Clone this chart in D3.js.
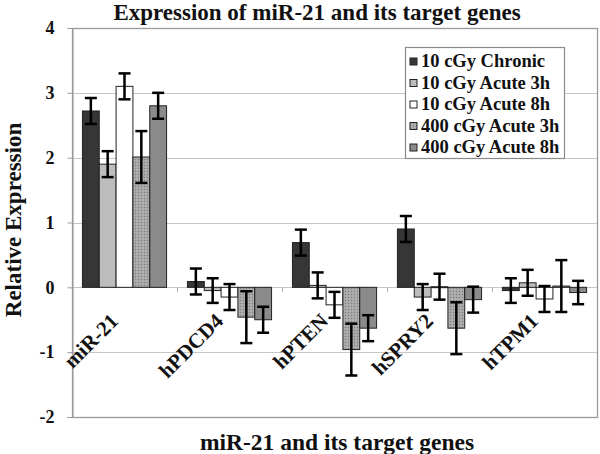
<!DOCTYPE html>
<html>
<head>
<meta charset="utf-8">
<script src="https://cdn.jsdelivr.net/npm/d3@7"></script>
<style>
  body { margin: 0; background: #fff; }
  svg { display: block; }
  text { font-family: "Liberation Serif", "Times New Roman", serif; font-weight: bold; fill: #111; }
</style>
</head>
<body>
<svg id="chart" width="600" height="454"></svg>
<script>
"use strict";

// данные
var categories = ["miR-21", "hPDCD4", "hPTEN", "hSPRY2", "hTPM1"];
var seriesNames = ["10 cGy Chronic", "10 cGy Acute 3h", "10 cGy Acute 8h", "400 cGy Acute 3h", "400 cGy Acute 8h"];
var chronic10 = [2.72, 0.09, 0.69, 0.90, -0.05];
var acute3h10 = [1.90, -0.05, 0.03, -0.15, 0.07];
var acute8h10 = [3.10, -0.15, -0.27, 0.01, -0.18];
var acute3h400 = [2.01, -0.46, -0.96, -0.63, 0.02];
var acute8h400 = [2.80, -0.50, -0.63, -0.19, -0.08];
var err10Chronic = [0.2, 0.2, 0.2, 0.2, 0.19];
var err10Acute3h = [0.2, 0.19, 0.2, 0.2, 0.2];
var err10Acute8h = [0.2, 0.2, 0.2, 0.2, 0.2];
var err400Acute3h = [0.4, 0.4, 0.4, 0.4, 0.4];
var err400Acute8h = [0.2, 0.2, 0.2, 0.2, 0.18];
var yTicks = [-2, -1, 0, 1, 2, 3, 4];

var values = [chronic10, acute3h10, acute8h10, acute3h400, acute8h400];
var errors = [err10Chronic, err10Acute3h, err10Acute8h, err400Acute3h, err400Acute8h];
var fills = ["#363636", "#bdbdbd", "#ffffff", "url(#dots)", "#8a8a8a"];

var svg = d3.select("#chart");

// узор для серии 400 cGy Acute 3h
var pat = svg.append("defs").append("pattern")
    .attr("id", "dots")
    .attr("patternUnits", "userSpaceOnUse")
    .attr("width", 3).attr("height", 3);
pat.append("rect").attr("width", 3).attr("height", 3).attr("fill", "#a6a6a6");
pat.append("rect").attr("x", 0).attr("y", 0).attr("width", 1).attr("height", 1).attr("fill", "#7c7c7c");
pat.append("rect").attr("x", 1.5).attr("y", 1.5).attr("width", 1).attr("height", 1).attr("fill", "#c8c8c8");

var plot = { left: 72, right: 597, top: 28, bottom: 417 };

var y = d3.scaleLinear().domain([-2, 4]).range([plot.bottom, plot.top]);
var x = d3.scaleBand().domain(categories).range([plot.left, plot.right]).paddingInner(0).paddingOuter(0);
var xs = d3.scaleBand().domain(d3.range(seriesNames.length))
    .range([0, x.bandwidth()]).paddingOuter(0.62).paddingInner(0);

// сетка
svg.append("g")
    .selectAll("line")
    .data(yTicks)
    .enter()
    .append("line")
    .attr("x1", plot.left).attr("x2", plot.right)
    .attr("y1", function (d) { return Math.round(y(d)) + 0.5; })
    .attr("y2", function (d) { return Math.round(y(d)) + 0.5; })
    .attr("stroke", "#c6c6c6").attr("stroke-width", 1.2);

// рамка области построения
svg.append("rect")
    .attr("x", plot.left + 0.5).attr("y", plot.top + 0.5)
    .attr("width", plot.right - plot.left).attr("height", plot.bottom - plot.top)
    .attr("fill", "none").attr("stroke", "#9a9a9a").attr("stroke-width", 1.3);

// ось Y
var yAxis = svg.append("g")
    .attr("transform", "translate(" + (plot.left + 0.5) + ",0)")
    .call(d3.axisLeft(y).tickValues(yTicks).tickSize(5).tickPadding(13)
        .tickFormat(function (d) { return String(d); }));
yAxis.select(".domain").attr("stroke", "#9a9a9a");
yAxis.selectAll(".tick line").attr("stroke", "#9a9a9a");
yAxis.selectAll("text").attr("font-size", 18).attr("fill", "#111")
    .attr("font-family", "Liberation Serif, Times New Roman, serif").attr("font-weight", "bold");

// засечки категорий на нуле
svg.append("g")
    .selectAll("line")
    .data(categories.slice(1))
    .enter()
    .append("line")
    .attr("x1", function (c) { return Math.round(x(c)) + 0.5; })
    .attr("x2", function (c) { return Math.round(x(c)) + 0.5; })
    .attr("y1", y(0)).attr("y2", y(0) + 5)
    .attr("stroke", "#b0b0b0");

// столбцы
var groups = svg.append("g")
    .selectAll("g")
    .data(values)
    .enter()
    .append("g");

groups.selectAll("rect")
    .data(function (vals, si) {
        return vals.map(function (v, ci) { return { s: si, c: ci, v: v }; });
    })
    .enter()
    .append("rect")
    .attr("x", function (d) { return x(categories[d.c]) + xs(d.s); })
    .attr("y", function (d) { return y(Math.max(d.v, 0)); })
    .attr("width", xs.bandwidth())
    .attr("height", function (d) { return Math.max(1, y(Math.min(d.v, 0)) - y(Math.max(d.v, 0))); })
    .attr("fill", function (d) { return fills[d.s]; })
    .attr("stroke", "#222").attr("stroke-width", 1);

// подписи категорий под нулём, повернутые
svg.append("g")
    .selectAll("text")
    .data(categories)
    .enter()
    .append("text")
    .attr("transform", function (c) {
        return "translate(" + (x(c) + x.bandwidth() / 2 - 5) + "," + (y(0) + 35) + ") rotate(-45)";
    })
    .attr("text-anchor", "end")
    .attr("font-size", 21)
    .text(function (c) { return c; });

// планки погрешностей
var bars = [];
values.forEach(function (vals, si) {
    vals.forEach(function (v, ci) {
        bars.push({ s: si, c: ci, v: v, e: errors[si][ci] });
    });
});
var eb = svg.append("g").attr("stroke", "#000").attr("stroke-width", 2.5);
var cx = function (d) { return x(categories[d.c]) + xs(d.s) + xs.bandwidth() / 2; };
eb.selectAll("line.v").data(bars).enter().append("line").attr("class", "v")
    .attr("x1", cx).attr("x2", cx)
    .attr("y1", function (d) { return y(d.v + d.e); })
    .attr("y2", function (d) { return y(d.v - d.e); });
eb.selectAll("line.t").data(bars).enter().append("line").attr("class", "t")
    .attr("x1", function (d) { return cx(d) - 6; }).attr("x2", function (d) { return cx(d) + 6; })
    .attr("y1", function (d) { return y(d.v + d.e); })
    .attr("y2", function (d) { return y(d.v + d.e); });
eb.selectAll("line.b").data(bars).enter().append("line").attr("class", "b")
    .attr("x1", function (d) { return cx(d) - 6; }).attr("x2", function (d) { return cx(d) + 6; })
    .attr("y1", function (d) { return y(d.v - d.e); })
    .attr("y2", function (d) { return y(d.v - d.e); });

// легенда
var lg = { x: 405, y: 47, w: 159, h: 111 };
svg.append("rect")
    .attr("x", lg.x + 0.5).attr("y", lg.y + 0.5)
    .attr("width", lg.w).attr("height", lg.h)
    .attr("fill", "#fff").attr("stroke", "#8a8a8a").attr("stroke-width", 1.2);
var items = svg.append("g")
    .selectAll("g")
    .data(seriesNames)
    .enter()
    .append("g")
    .attr("transform", function (d, i) { return "translate(" + (lg.x + 5) + "," + (lg.y + 20 + i * 21.5) + ")"; });
items.append("rect")
    .attr("x", 0).attr("y", -9).attr("width", 7).attr("height", 7)
    .attr("fill", function (d, i) { return fills[i]; })
    .attr("stroke", "#222");
items.append("text")
    .attr("x", 11).attr("y", 0)
    .attr("font-size", 18.5)
    .text(function (d) { return d; });

// заголовки
svg.append("text")
    .attr("x", 317).attr("y", 20)
    .attr("text-anchor", "middle").attr("font-size", 23)
    .text("Expression of miR-21 and its target genes");
svg.append("text")
    .attr("x", 337).attr("y", 450)
    .attr("text-anchor", "middle").attr("font-size", 23.5)
    .text("miR-21 and its target genes");
svg.append("text")
    .attr("transform", "translate(21,220) rotate(-90)")
    .attr("text-anchor", "middle").attr("font-size", 23)
    .text("Relative Expression");
</script>
</body>
</html>
